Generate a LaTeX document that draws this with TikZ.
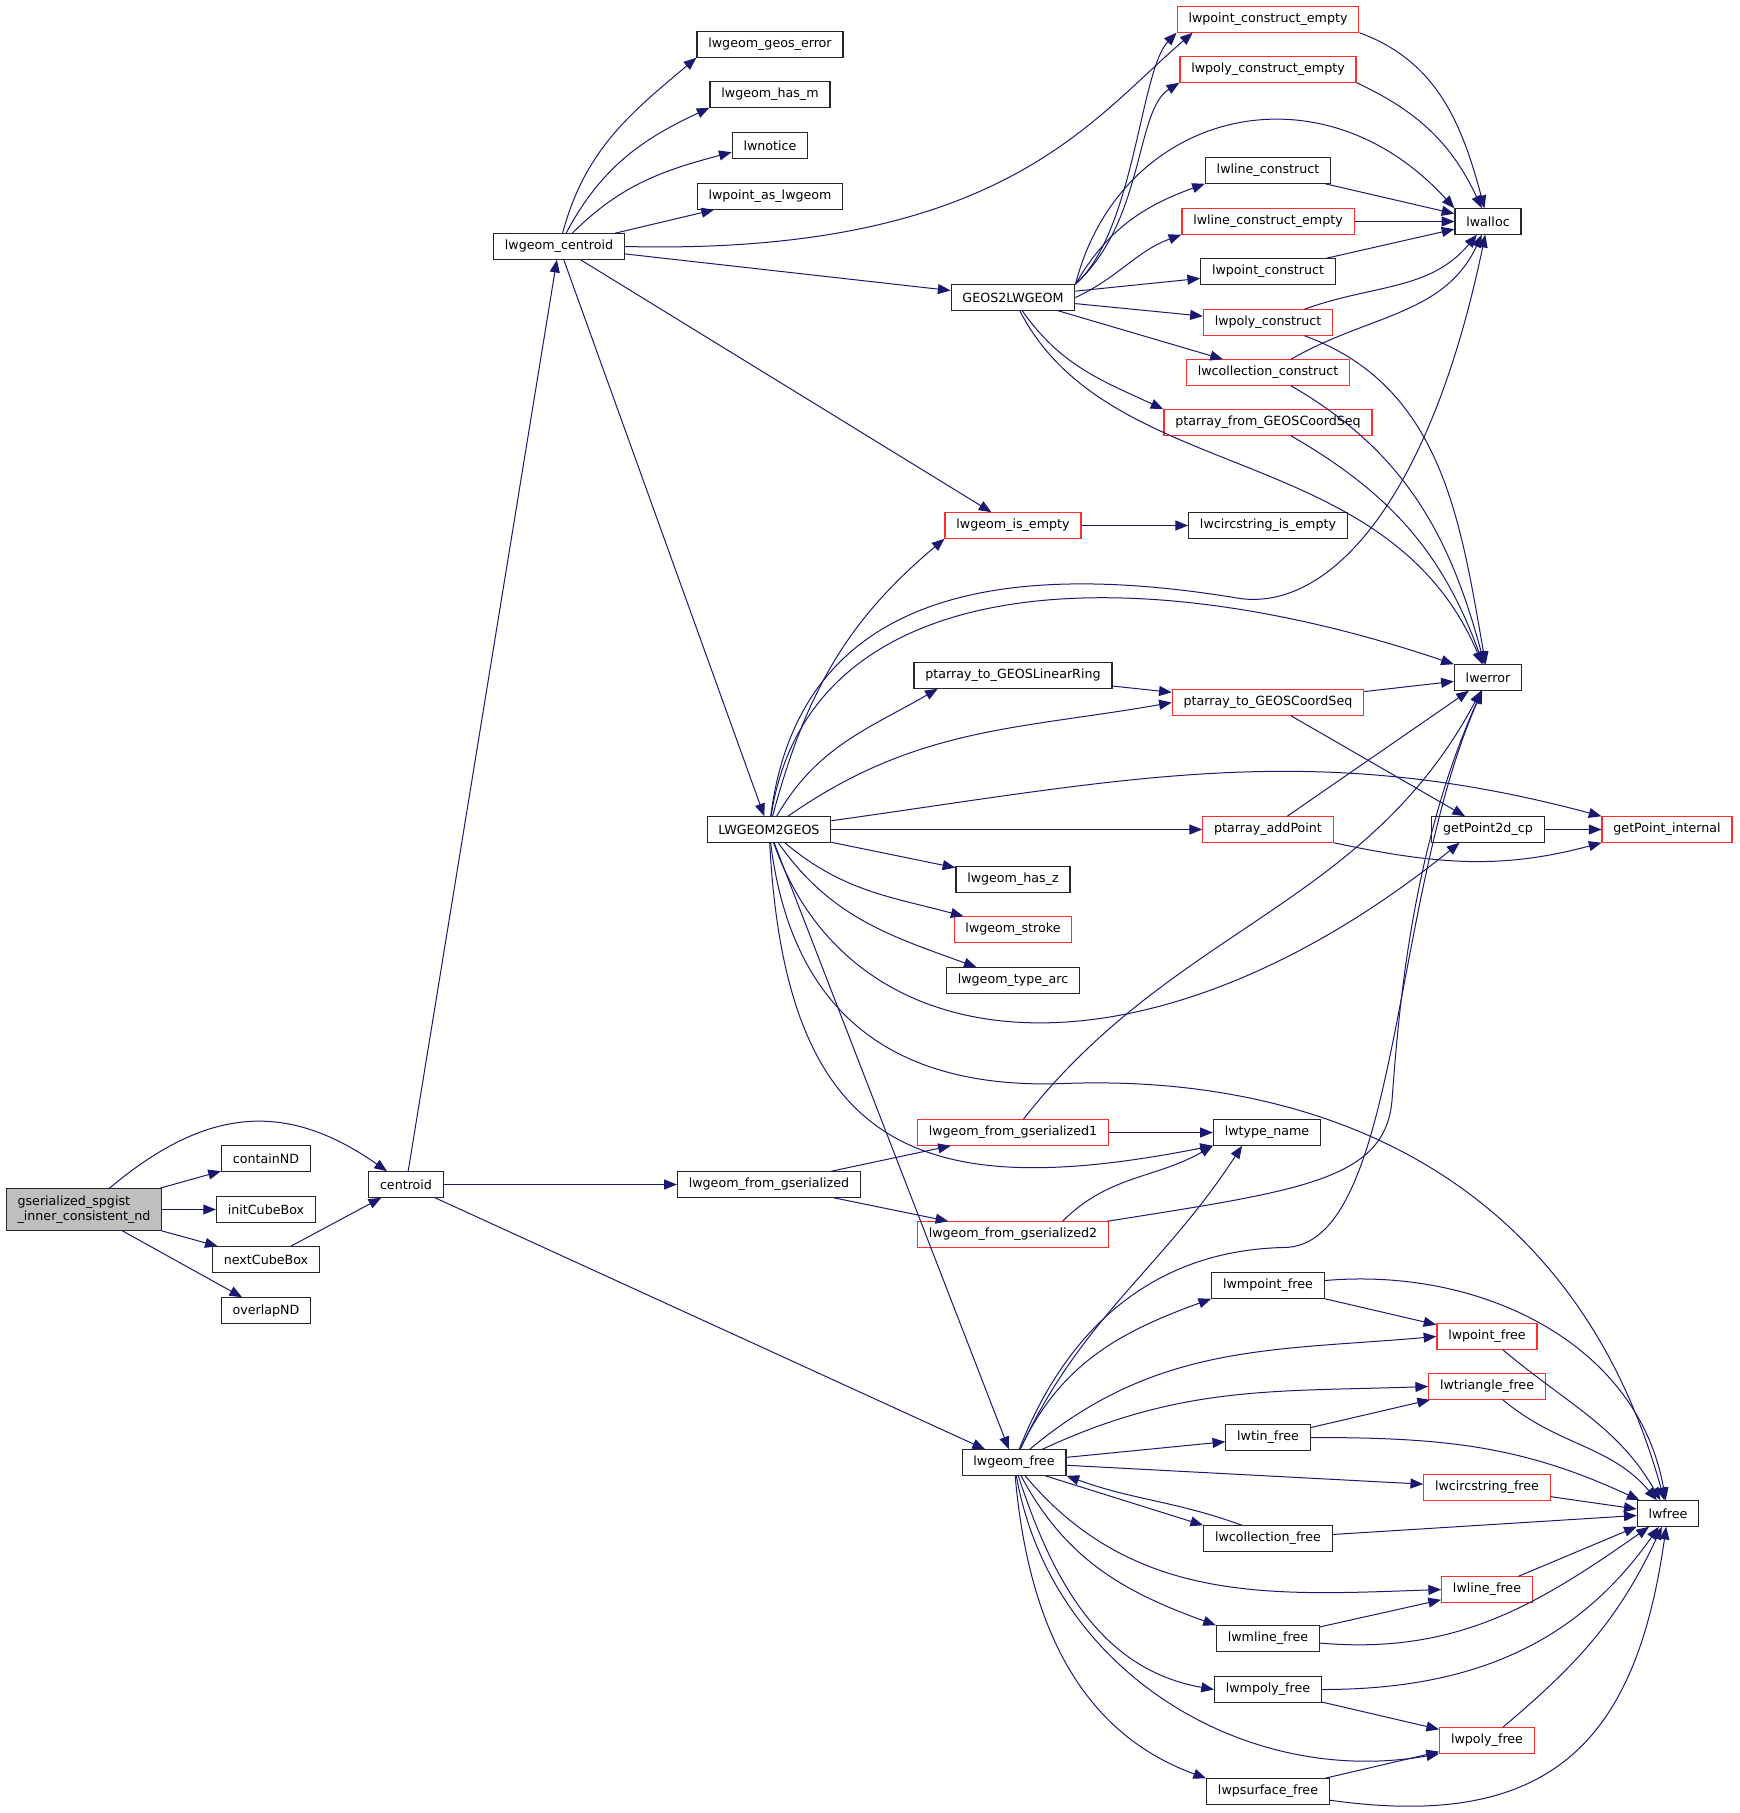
\documentclass[tikz,border=0pt]{standalone}
\usepackage{fontspec}
\setmainfont{DejaVu Sans}
\usepackage{tikz}
\usetikzlibrary{arrows.meta}
\definecolor{edgeblue}{HTML}{191970}
\definecolor{boxred}{HTML}{FF2A2A}
\definecolor{boxgray}{HTML}{BFBFBF}
\newcommand{\fnfont}{\fontsize{9.5}{11.5}\selectfont}
\tikzset{>={Triangle[length=9.5pt,width=7.5pt]}}
\tikzset{
    fn/.style={draw=black!85, line width=0.9pt, fill=white, font=\fnfont, inner xsep=8.5pt, inner ysep=0pt, minimum height=19pt},
    fnred/.style={fn, draw=boxred},
    fnroot/.style={fn, fill=boxgray, align=left, minimum height=31pt},
    call/.style={->, draw=edgeblue, line width=0.75pt},
}

\begin{document}
\begin{tikzpicture}[x=0.75pt, y=0.75pt]
    \fill[white] (0,0.5) rectangle (1740,-1812.5);
    \useasboundingbox (0,0.5) rectangle (1740,-1812.5);
    \node[fnroot] (root) at (84,-1209) {gserialized\_spgist\\\_inner\_consistent\_nd};
    \node[fn] (containnd) at (266,-1158) {containND};
    \node[fn] (initcubebox) at (266,-1209) {initCubeBox};
    \node[fn] (nextcubebox) at (266,-1259) {nextCubeBox};
    \node[fn] (overlapnd) at (266,-1310) {overlapND};
    \node[fn] (centroid) at (406,-1184) {centroid};
    \node[fn] (lwcentroid) at (559,-246) {lwgeom\_centroid};
    \node[fn] (geoserror) at (770,-44) {lwgeom\_geos\_error};
    \node[fn] (hasm) at (770,-94) {lwgeom\_has\_m};
    \node[fn] (lwnotice) at (770,-145) {lwnotice};
    \node[fn] (pointaslw) at (770,-196) {lwpoint\_as\_lwgeom};
    \node[fn] (geos2lw) at (1013,-297) {GEOS2LWGEOM};
    \node[fnred] (isempty) at (1013,-525) {lwgeom\_is\_empty};
    \node[fn] (lw2geos) at (769,-829) {LWGEOM2GEOS};
    \node[fn] (fromgser) at (769,-1184) {lwgeom\_from\_gserialized};
    \node[fn] (lwgfree) at (1014,-1462) {lwgeom\_free};
    \node[fnred] (ptconsempty) at (1268,-19) {lwpoint\_construct\_empty};
    \node[fnred] (polyconsempty) at (1268,-69) {lwpoly\_construct\_empty};
    \node[fn] (lineconstruct) at (1268,-170) {lwline\_construct};
    \node[fnred] (lineconsempty) at (1268,-221) {lwline\_construct\_empty};
    \node[fn] (ptconstruct) at (1268,-271) {lwpoint\_construct};
    \node[fnred] (polyconstruct) at (1268,-322) {lwpoly\_construct};
    \node[fnred] (collconstruct) at (1268,-372) {lwcollection\_construct};
    \node[fnred] (fromcoordseq) at (1268,-422) {ptarray\_from\_GEOSCoordSeq};
    \node[fn] (circisempty) at (1268,-525) {lwcircstring\_is\_empty};
    \node[fn] (tolinearring) at (1013,-675) {ptarray\_to\_GEOSLinearRing};
    \node[fnred] (tocoordseq) at (1268,-702) {ptarray\_to\_GEOSCoordSeq};
    \node[fnred] (addpoint) at (1268,-829) {ptarray\_addPoint};
    \node[fn] (hasz) at (1013,-879) {lwgeom\_has\_z};
    \node[fnred] (stroke) at (1013,-929) {lwgeom\_stroke};
    \node[fn] (typearc) at (1013,-980) {lwgeom\_type\_arc};
    \node[fnred] (fromgser1) at (1013,-1132) {lwgeom\_from\_gserialized1};
    \node[fnred] (fromgser2) at (1013,-1234) {lwgeom\_from\_gserialized2};
    \node[fn] (typename) at (1267,-1132) {lwtype\_name};
    \node[fn] (lwalloc) at (1488,-221) {lwalloc};
    \node[fn] (lwerror) at (1488,-677) {lwerror};
    \node[fn] (getpt2d) at (1488,-829) {getPoint2d\_cp};
    \node[fnred] (getptint) at (1667,-829) {getPoint\_internal};
    \node[fn] (mpointfree) at (1268,-1285) {lwmpoint\_free};
    \node[fnred] (pointfree) at (1487,-1336) {lwpoint\_free};
    \node[fnred] (trianglefree) at (1487,-1386) {lwtriangle\_free};
    \node[fn] (tinfree) at (1268,-1437) {lwtin\_free};
    \node[fnred] (circfree) at (1487,-1487) {lwcircstring\_free};
    \node[fn] (lwfree) at (1668,-1513) {lwfree};
    \node[fn] (collfree) at (1268,-1538) {lwcollection\_free};
    \node[fnred] (linefree) at (1487,-1589) {lwline\_free};
    \node[fn] (mlinefree) at (1268,-1638) {lwmline\_free};
    \node[fn] (mpolyfree) at (1268,-1689) {lwmpoly\_free};
    \node[fnred] (polyfree) at (1487,-1740) {lwpoly\_free};
    \node[fn] (psurffree) at (1268,-1791) {lwpsurface\_free};

    \draw[call] (root) to[out=40,in=145,looseness=1.15] (centroid);
    \draw[call] (root) -- (containnd);
    \draw[call] (root) -- (initcubebox);
    \draw[call] (root) -- (nextcubebox);
    \draw[call] (root) -- (overlapnd);
    \draw[call] (nextcubebox) -- (centroid);
    \draw[call] (centroid) -- (lwcentroid);
    \draw[call] (centroid) -- (fromgser);
    \draw[call] (centroid) -- (lwgfree);

    \draw[call] (lwcentroid) to[out=75,in=220] (geoserror.south west);
    \draw[call] (lwcentroid) to[out=62,in=205] (hasm.south west);
    \draw[call] (lwcentroid) to[out=45,in=195] ([yshift=-5pt]lwnotice.west);
    \draw[call] (lwcentroid) -- (pointaslw);
    \draw[call] (lwcentroid.east) .. controls (1000,-255) and (1090,-120) .. (ptconsempty.190);
    \draw[call] (lwcentroid) -- (geos2lw);
    \draw[call] (lwcentroid) -- (isempty);
    \draw[call] (lwcentroid) -- (lw2geos);

    \draw[call] (geos2lw.north east) .. controls (1135,-230) and (1140,-70) .. (ptconsempty.south west);
    \draw[call] (geos2lw.north east) .. controls (1145,-220) and (1135,-110) .. (polyconsempty.south west);
    \draw[call] (geos2lw.north east) .. controls (1120,-110) and (1320,-60) .. (lwalloc.north west);
    \draw[call] (geos2lw.north east) to[out=60,in=200] (lineconstruct.south west);
    \draw[call] (geos2lw.east) to[out=25,in=200] (lineconsempty.south west);
    \draw[call] (geos2lw) -- (ptconstruct);
    \draw[call] (geos2lw) -- (polyconstruct);
    \draw[call] (geos2lw) -- (collconstruct);
    \draw[call] (geos2lw) to[out=-55,in=155] (fromcoordseq.north west);
    \draw[call] (geos2lw) .. controls (1110,-486) and (1387,-439) .. (lwerror);

    \draw[call] (ptconsempty.south east) to[out=-20,in=105] (lwalloc);
    \draw[call] (polyconsempty.south east) to[out=-25,in=115] (lwalloc);
    \draw[call] (lineconstruct) -- (lwalloc);
    \draw[call] (lineconsempty) -- (lwalloc);
    \draw[call] (ptconstruct) -- (lwalloc);
    \draw[call] (polyconstruct) to[out=20,in=230] (lwalloc);
    \draw[call] (polyconstruct) to[out=-20,in=100] (lwerror);
    \draw[call] (collconstruct) to[out=30,in=245] (lwalloc);
    \draw[call] (collconstruct) to[out=-30,in=105] (lwerror);
    \draw[call] (fromcoordseq) to[out=-30,in=110] (lwerror);
    \draw[call] (isempty) -- (circisempty);

    \draw[call] (lw2geos) to[out=75,in=220] (isempty.south west);
    \draw[call] (lw2geos) .. controls (798,-601) and (983,-555) .. (1240,-598) .. controls (1330,-610) and (1430,-500) .. (lwalloc);
    \draw[call] (lw2geos) .. controls (809,-566) and (1133,-555) .. (lwerror.north west);
    \draw[call] (lw2geos) to[out=60,in=210] (tolinearring.190);
    \draw[call] (lw2geos) to[out=35,in=190] (tocoordseq.west);
    \draw[call] (lw2geos) to[out=8,in=165] (getptint.north west);
    \draw[call] (lw2geos) -- (addpoint);
    \draw[call] (lw2geos) -- (hasz);
    \draw[call] (lw2geos) to[out=-40,in=165] (stroke);
    \draw[call] (lw2geos) to[out=-55,in=160] (typearc);
    \draw[call] (lw2geos) .. controls (855,-1075) and (1156,-1087) .. (getpt2d.205);
    \draw[call] (lw2geos) .. controls (790,-1000) and (880,-1090) .. (1064,-1083) .. controls (1300,-1074) and (1570,-1160) .. (lwfree);
    \draw[call] (lw2geos) .. controls (786,-1156) and (925,-1202) .. (typename.south west);
    \draw[call] (lw2geos) -- (lwgfree);

    \draw[call] (tolinearring) -- (tocoordseq);
    \draw[call] (tocoordseq) -- (lwerror);
    \draw[call] (tocoordseq) -- (getpt2d);
    \draw[call] (addpoint) -- (lwerror);
    \draw[call] (addpoint.south east) to[out=-12,in=195] (getptint.south west);
    \draw[call] (getpt2d) -- (getptint);

    \draw[call] (fromgser) -- (fromgser1);
    \draw[call] (fromgser) -- (fromgser2);
    \draw[call] (fromgser1) -- (typename);
    \draw[call] (fromgser1) to[out=52,in=242] (lwerror);
    \draw[call] (fromgser2.15) to[out=45,in=210] (typename.south west);
    \draw[call] (fromgser2.8) .. controls (1300,-1190) and (1385,-1180) .. (1392,-1100) .. controls (1398,-1020) and (1410,-850) .. (lwerror);

    \draw[call] (lwgfree) to[out=65,in=237] (typename.208);
    \draw[call] (lwgfree) .. controls (1070,-1320) and (1160,-1250) .. (1283,-1247) .. controls (1400,-1248) and (1390,-900) .. (lwerror);
    \draw[call] (lwgfree) to[out=65,in=200] (mpointfree.south west);
    \draw[call] (lwgfree) to[out=40,in=185] (pointfree.west);
    \draw[call] (lwgfree) to[out=25,in=182] (trianglefree.west);
    \draw[call] (lwgfree) -- (tinfree);
    \draw[call] (lwgfree) -- (circfree);
    \draw[call] (lwgfree.-23) -- (collfree.north west);
    \draw[call] (collfree.153) to[out=160,in=-20] (lwgfree.south east);
    \draw[call] (lwgfree) to[out=-50,in=182] (linefree.west);
    \draw[call] (lwgfree) to[out=-62,in=160] (mlinefree.north west);
    \draw[call] (lwgfree) to[out=-72,in=170] (mpolyfree.west);
    \draw[call] (lwgfree) to[out=-80,in=190] (polyfree.south west);
    \draw[call] (lwgfree) to[out=-85,in=160] (psurffree.north west);

    \draw[call] (mpointfree) -- (pointfree);
    \draw[call] (mpointfree) to[out=5,in=100] (lwfree);
    \draw[call] (pointfree) to[out=-40,in=120] (lwfree);
    \draw[call] (trianglefree) to[out=-40,in=130] (lwfree);
    \draw[call] (tinfree) -- (trianglefree);
    \draw[call] (tinfree) to[out=0,in=155] (lwfree);
    \draw[call] (circfree) -- (lwfree);
    \draw[call] (collfree) -- (lwfree);
    \draw[call] (linefree) -- (lwfree);
    \draw[call] (mlinefree) -- (linefree);
    \draw[call] (mlinefree) to[out=-5,in=215] (lwfree);
    \draw[call] (mpolyfree) -- (polyfree);
    \draw[call] (mpolyfree) to[out=0,in=235] (lwfree);
    \draw[call] (polyfree) to[out=40,in=245] (lwfree);
    \draw[call] (psurffree) -- (polyfree);
    \draw[call] (psurffree) to[out=-8,in=262,looseness=1.3] (lwfree);
\end{tikzpicture}
\end{document}
